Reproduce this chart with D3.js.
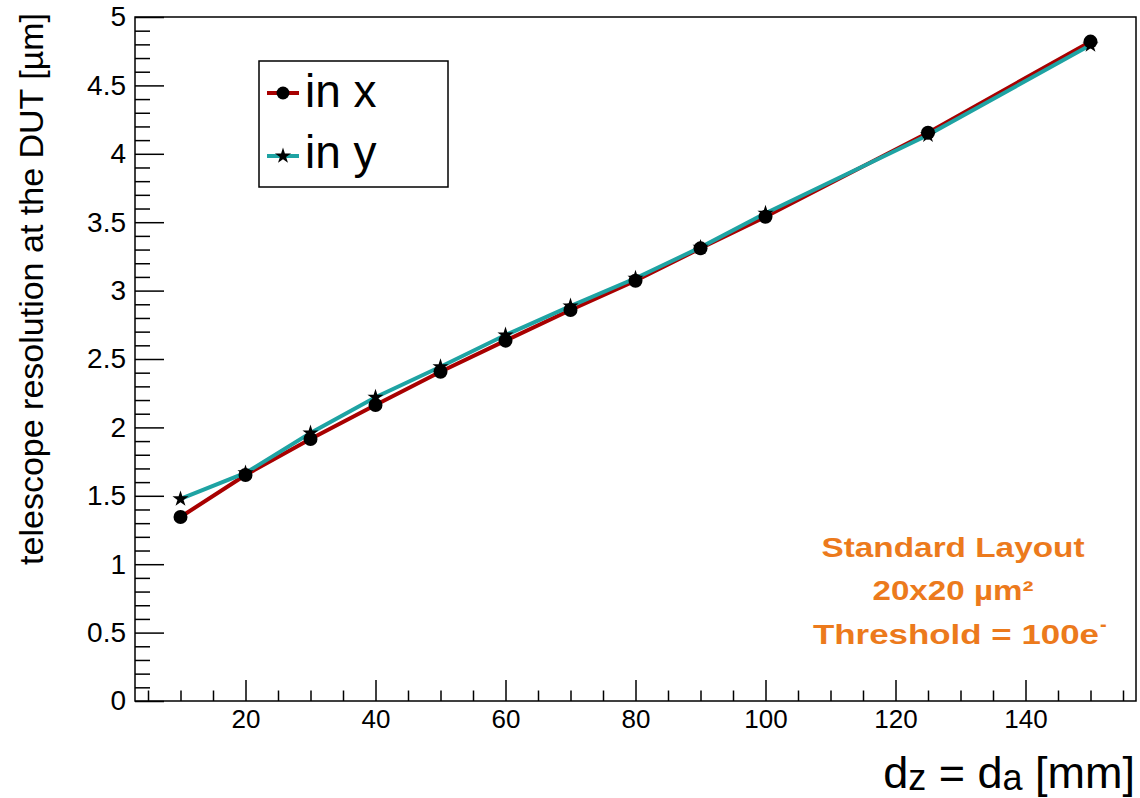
<!DOCTYPE html>
<html>
<head>
<meta charset="utf-8">
<script src="https://cdn.jsdelivr.net/npm/d3@7"></script>
<style>
  body { margin: 0; background: #fff; }
  text { font-family: "Liberation Sans", Arial, Helvetica, sans-serif; }
</style>
</head>
<body>
<svg id="chart" width="1140" height="798"></svg>
<script>
// distance d_z = d_a in mm
var distances = [10, 20, 30, 40, 50, 60, 70, 80, 90, 100, 125, 150];
// telescope resolution at the DUT, um
var resX = [1.345, 1.652, 1.915, 2.164, 2.407, 2.634, 2.858, 3.072, 3.309, 3.540, 4.154, 4.820];
var resY = [1.477, 1.667, 1.959, 2.220, 2.443, 2.675, 2.887, 3.090, 3.316, 3.565, 4.137, 4.795];

var xTicks = [20, 40, 60, 80, 100, 120, 140];
var yTicks = [0, 0.5, 1, 1.5, 2, 2.5, 3, 3.5, 4, 4.5, 5];
var yTickLabels = ["0", "0.5", "1", "1.5", "2", "2.5", "3", "3.5", "4", "4.5", "5"];

var seriesNames = ["in x", "in y"];
var noteLines = ["Standard Layout", "20x20 \u00b5m\u00b2", "Threshold = 100e"];

var colX = "#a80000",
    colY = "#1ea3a3",
    colNote = "#ec7a1c";

// frame edges (window.top is read-only, so no "top" here)
var fLeft = 135, fRight = 1136, fTop = 17, fBottom = 701;

var svg = d3.select("#chart");

var x = d3.scaleLinear().domain([3, 157]).range([fLeft, fRight]);
var y = d3.scaleLinear().domain([0, 5]).range([fBottom, fTop]);

// frame
svg.append("rect")
    .attr("x", fLeft).attr("y", fTop)
    .attr("width", fRight - fLeft).attr("height", fBottom - fTop)
    .attr("fill", "none").attr("stroke", "#000").attr("stroke-width", 1.5);

// minor ticks
var xMinor = d3.range(5, 157, 5).filter(function(v) { return v % 20 != 0; });
var yMinor = d3.range(0, 50).map(function(v) { return v / 10; }).filter(function(v, i) { return i % 5 != 0; });

svg.append("g")
    .attr("transform", "translate(0," + fBottom + ")")
    .call(d3.axisBottom(x).tickValues(xMinor).tickSize(-10.5).tickFormat(""))
    .call(function(g) { g.select(".domain").remove(); });

svg.append("g")
    .attr("transform", "translate(" + fLeft + ",0)")
    .call(d3.axisLeft(y).tickValues(yMinor).tickSize(-15).tickFormat(""))
    .call(function(g) { g.select(".domain").remove(); });

// major ticks + labels
var gx = svg.append("g")
    .attr("transform", "translate(0," + fBottom + ")")
    .call(d3.axisBottom(x).tickValues(xTicks).tickSize(-21).tickPadding(9));
gx.select(".domain").remove();
gx.selectAll("text").attr("font-size", 26).attr("fill", "#000")
    .style("font-family", "'Liberation Sans', Arial, sans-serif");

var gy = svg.append("g")
    .attr("transform", "translate(" + fLeft + ",0)")
    .call(d3.axisLeft(y).tickValues(yTicks).tickSize(-29).tickPadding(9)
        .tickFormat(function(d, i) { return yTickLabels[i]; }));
gy.select(".domain").remove();
gy.selectAll("text").attr("font-size", 28).attr("fill", "#000")
    .style("font-family", "'Liberation Sans', Arial, sans-serif");

svg.selectAll(".tick line").attr("stroke", "#000").attr("stroke-width", 1.5);

// axis titles
svg.append("text")
    .attr("transform", "translate(43,13)rotate(-90)")
    .attr("text-anchor", "end")
    .attr("font-size", 34)
    .text("telescope resolution at the DUT [\u00b5m]");

var xt = svg.append("text")
    .attr("x", 1135).attr("y", 788)
    .attr("text-anchor", "end")
    .attr("font-size", 45);
xt.append("tspan").text("d");
xt.append("tspan").attr("font-size", 36).attr("dy", 2).text("z");
xt.append("tspan").attr("dy", -2).text(" = d");
xt.append("tspan").attr("font-size", 36).attr("dy", 2).text("a");
xt.append("tspan").attr("dy", -2).text(" [mm]");

// lines
var line = function(vals) {
    return d3.line()
        .x(function(d, i) { return x(distances[i]); })
        .y(function(d) { return y(d); })(vals);
};

svg.append("path").attr("d", line(resX))
    .attr("fill", "none").attr("stroke", colX).attr("stroke-width", 4);
svg.append("path").attr("d", line(resY))
    .attr("fill", "none").attr("stroke", colY).attr("stroke-width", 4);

svg.selectAll(".ptx").data(resX).enter().append("circle")
    .attr("class", "ptx")
    .attr("cx", function(d, i) { return x(distances[i]); })
    .attr("cy", function(d) { return y(d); })
    .attr("r", 7)
    .attr("fill", "#000");

var star = d3.symbol().type(d3.symbolStar).size(80);
svg.selectAll(".pty").data(resY).enter().append("path")
    .attr("class", "pty")
    .attr("transform", function(d, i) { return "translate(" + x(distances[i]) + "," + y(d) + ")"; })
    .attr("d", star)
    .attr("fill", "#000");

// legend
var leg = svg.append("g");
leg.append("rect")
    .attr("x", 259).attr("y", 61).attr("width", 189).attr("height", 126)
    .attr("fill", "#fff").attr("stroke", "#000").attr("stroke-width", 1.5);

var legRows = [
    {name: seriesNames[0], col: colX, my: 93, ty: 107, mark: "circle"},
    {name: seriesNames[1], col: colY, my: 156, ty: 168, mark: "star"}
];
legRows.forEach(function(r) {
    leg.append("line")
        .attr("x1", 267).attr("x2", 299).attr("y1", r.my).attr("y2", r.my)
        .attr("stroke", r.col).attr("stroke-width", 4);
    if (r.mark == "circle") {
        leg.append("circle").attr("cx", 283).attr("cy", r.my).attr("r", 6.5).attr("fill", "#000");
    } else {
        leg.append("path").attr("transform", "translate(283," + r.my + ")")
            .attr("d", star).attr("fill", "#000");
    }
    leg.append("text")
        .attr("x", 305).attr("y", r.ty)
        .attr("font-size", 46)
        .text(r.name);
});

// note
var noteY = [557, 600, 644];
var noteW = [263, 161, 286];
noteLines.forEach(function(t, i) {
    svg.append("text")
        .attr("x", i == 2 ? 956 : 953).attr("y", noteY[i])
        .attr("text-anchor", "middle")
        .attr("font-size", 28)
        .attr("font-weight", "bold")
        .attr("fill", colNote)
        .attr("textLength", noteW[i])
        .attr("lengthAdjust", "spacingAndGlyphs")
        .text(t);
});
svg.append("text")
    .attr("x", 1100).attr("y", 631)
    .attr("font-size", 20)
    .attr("font-weight", "bold")
    .attr("fill", colNote)
    .text("-");
</script>
</body>
</html>
